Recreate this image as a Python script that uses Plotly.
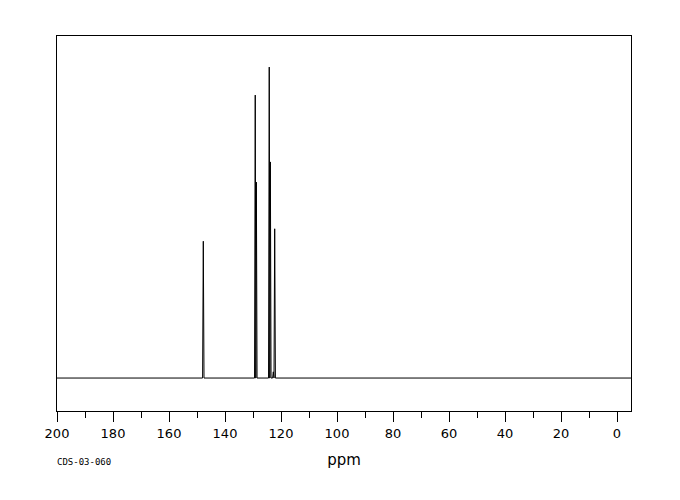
import plotly.graph_objects as go

# Peak positions (ppm) and relative intensities
peak_ppm = [147.75, 129.2, 128.8, 124.2, 123.8, 122.75, 122.25]
peak_int = [44.0, 91.0, 63.0, 100.0, 69.5, 2.0, 48.0]

x_start, x_end = 200, -5

xs = [x_start]
ys = [0]
for p, h in sorted(zip(peak_ppm, peak_int), reverse=True):
    xs += [p + 0.25, p, p - 0.25]
    ys += [0, h, 0]
xs.append(x_end)
ys.append(0)

fig = go.Figure()
fig.add_trace(go.Scatter(x=xs, y=ys, mode="lines",
                         line=dict(color="black", width=1), hoverinfo="skip"))

fig.update_layout(
    width=680, height=500,
    margin=dict(l=49, r=57, t=28, b=97),
    paper_bgcolor="white", plot_bgcolor="white",
    showlegend=False,
    font=dict(family="DejaVu Sans", color="black"),
    xaxis=dict(
        range=[x_start, x_end], showgrid=False, zeroline=False,
        showline=True, linecolor="black", linewidth=1, mirror=True,
        ticks="outside", tickvals=list(range(200, -1, -20)),
        ticklen=10, tickwidth=1, tickcolor="black",
        minor=dict(tickvals=list(range(190, 0, -20)), ticks="outside",
                   ticklen=6, tickwidth=1, tickcolor="black"),
        tickfont=dict(size=13, family="DejaVu Sans"),
        title=dict(text="ppm", font=dict(size=15), standoff=14),
    ),
    yaxis=dict(
        range=[-10.6, 110.0], showgrid=False, zeroline=False,
        showline=True, linecolor="black", linewidth=1, mirror=True,
        showticklabels=False, ticks="",
    ),
)

fig.add_annotation(text="CDS-03-060", xref="paper", yref="paper",
                   x=0, y=0, xshift=-2, yshift=-51, xanchor="left", yanchor="middle",
                   showarrow=False,
                   font=dict(family="DejaVu Sans Mono", size=9, color="black"))

fig.write_html("out.html")
